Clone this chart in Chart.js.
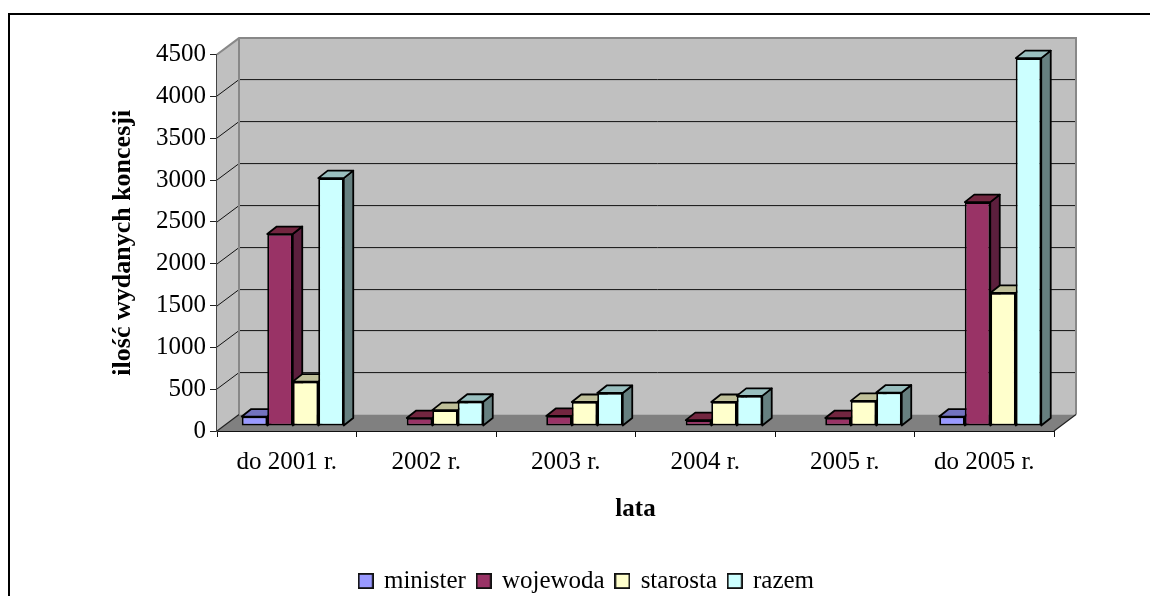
<!DOCTYPE html>
<html><head><meta charset="utf-8">
<style>html,body{margin:0;padding:0;background:#fff}canvas{display:block}</style>
<script src="https://cdn.jsdelivr.net/npm/chart.js@4"></script>
</head><body><canvas id="c" width="1150" height="596"></canvas>
<script>
const categories = ['do 2001 r.','2002 r.','2003 r.','2004 r.','2005 r.','do 2005 r.'];
const minister = [113,null,null,null,null,113];
const wojewoda = [2294,95,120,70,95,2676];
const starosta = [530,190,287,287,300,1590];
const razem = [2963,290,395,360,400,4397];
const seriesNames = ['minister','wojewoda','starosta','razem'];
const yTitle = 'ilość wydanych koncesji';
const xTitle = 'lata';
const fills = ['#9999ff','#993366','#ffffcc','#ccffff'];
const tops  = ['#7373bf','#732640','#bfbf99','#99bfbf'];
const sides = ['#5c5c99','#5c1f3d','#99997a','#668080'];
const serif = '"Liberation Serif"';
const WALL_DX = 22, WALL_DY = 16.4, BAR_DX = 6, BAR_DY = 5, DEPTH_X = 9.5, DEPTH_Y = 7.5;
const seriesData=[minister,wojewoda,starosta,razem];

function poly(ctx, pts, fill, stroke, lw){
  ctx.beginPath();
  pts.forEach((p,i)=> i?ctx.lineTo(p[0],p[1]):ctx.moveTo(p[0],p[1]));
  ctx.closePath();
  if(fill){ctx.fillStyle=fill;ctx.fill();}
  if(stroke){ctx.strokeStyle=stroke;ctx.lineWidth=lw;ctx.lineJoin='round';ctx.stroke();}
}
const icons = fills.map(f=>{
  const c=document.createElement('canvas');c.width=16;c.height=16;
  const x=c.getContext('2d');
  x.fillStyle=f;x.fillRect(1,1,14,14);
  x.strokeStyle='#111';x.lineWidth=1.8;x.strokeRect(.9,.9,14.2,14.2);
  return c;
});
const scene = {
  id:'scene',
  afterLayout(chart){
    const l = chart.legend; // legend placed as in the source
    const shift = 587 - (l.left + l.right)/2;
    l.left += shift; l.right += shift;
    l.top += 7.5; l.bottom += 7.5;
  },
  beforeDatasetsDraw(chart){
    const {ctx, chartArea:a, scales:{y}} = chart;
    ctx.save();
    const L=a.left,R=a.right,T=a.top,B=a.bottom;
    poly(ctx,[[L,T],[L+WALL_DX,T-WALL_DY],[L+WALL_DX,B-WALL_DY],[L,B]],'#c0c0c0');
    poly(ctx,[[L+WALL_DX,T-WALL_DY],[R+WALL_DX,T-WALL_DY],[R+WALL_DX,B-WALL_DY],[L+WALL_DX,B-WALL_DY]],'#c0c0c0');
    ctx.strokeStyle='#111'; ctx.lineWidth=1;
    y.ticks.forEach(t=>{
      if(t.value===0||t.value===4500) return;
      const py=Math.round(y.getPixelForValue(t.value));
      ctx.beginPath();
      ctx.moveTo(L,py);ctx.lineTo(L+WALL_DX,py-WALL_DY);ctx.lineTo(R+WALL_DX,py-WALL_DY);ctx.stroke();
    });
    poly(ctx,[[L,B],[R,B],[R+WALL_DX,B-WALL_DY],[L+WALL_DX,B-WALL_DY]],'#808080');
    ctx.strokeStyle='#888'; ctx.lineWidth=2; ctx.lineJoin='miter';
    ctx.beginPath();
    ctx.moveTo(L,T);ctx.lineTo(L+WALL_DX,T-WALL_DY);ctx.lineTo(R+WALL_DX,T-WALL_DY);ctx.lineTo(R+WALL_DX,B-WALL_DY);
    ctx.moveTo(L+WALL_DX,T-WALL_DY);ctx.lineTo(L+WALL_DX,B-WALL_DY);
    ctx.stroke();
    ctx.strokeStyle='#222'; ctx.lineWidth=1.2;
    ctx.beginPath();
    ctx.moveTo(L,B);ctx.lineTo(L+WALL_DX,B-WALL_DY);
    ctx.moveTo(R,B);ctx.lineTo(R+WALL_DX,B-WALL_DY);
    ctx.stroke();
    // side and top faces of the bars, left to right; the fronts are drawn after by the library
    ctx.translate(BAR_DX,-BAR_DY);
    seriesData.forEach((vals,i)=>{
      chart.getDatasetMeta(i).data.forEach((el,k)=>{
        if(vals[k]==null) return;
        const p=el.getProps(['x','y','base','width'],true);
        const l=p.x-p.width/2,r=p.x+p.width/2;
        poly(ctx,[[r,p.y],[r+DEPTH_X,p.y-DEPTH_Y],[r+DEPTH_X,p.base-DEPTH_Y],[r,p.base]],sides[i],'#000',1.8);
        poly(ctx,[[l,p.y],[l+DEPTH_X,p.y-DEPTH_Y],[r+DEPTH_X,p.y-DEPTH_Y],[r,p.y]],tops[i],'#000',1.8);
      });
    });
    ctx.restore();
  },
  beforeDatasetDraw(chart){
    chart.ctx.save();
    chart.ctx.translate(BAR_DX,-BAR_DY);
  },
  afterDatasetDraw(chart){ chart.ctx.restore(); }
};
const frame = {
  id:'frame',
  beforeDraw(chart){
    const ctx=chart.ctx;
    ctx.save();
    ctx.fillStyle='#fff';ctx.fillRect(0,0,1150,596);
    ctx.strokeStyle='#000';ctx.lineWidth=2;
    ctx.beginPath();ctx.moveTo(9,596);ctx.lineTo(9,14);ctx.lineTo(1150,14);ctx.stroke();
    ctx.restore();
  }
};
new Chart(document.getElementById('c'),{
  type:'bar',
  data:{labels:categories,datasets:seriesNames.map((n,i)=>({
    label:n,data:seriesData[i],backgroundColor:fills[i],borderColor:'#000',borderWidth:1.8,
    clip:false,categoryPercentage:0.731,barPercentage:1,borderSkipped:false
  }))},
  options:{
    responsive:false,animation:false,
    layout:{padding:{left:100,right:96,top:54.5,bottom:0}},
    plugins:{
      tooltip:{enabled:false},
      legend:{position:'bottom',labels:{
        usePointStyle:true,pointStyleWidth:11.5,boxHeight:15,padding:12,color:'#000',font:{family:serif,size:25},
        generateLabels(chart){
          return Chart.defaults.plugins.legend.labels.generateLabels(chart).map((it,i)=>({...it,pointStyle:icons[i]}));
        }
      }}
    },
    scales:{
      x:{
        offset:true,
        afterFit(s){s.height=118;},
        border:{color:'#111',width:2},
        grid:{display:true,drawOnChartArea:false,drawTicks:true,tickLength:6,color:'#111',lineWidth:1,offset:true},
        ticks:{color:'#000',maxRotation:0,padding:10,font:{family:serif,size:25}},
        title:{display:true,text:xTitle,color:'#000',font:{family:serif,size:25,weight:'bold'},padding:{top:0,bottom:24}}
      },
      y:{
        min:0,max:4500,
        afterFit(s){s.width=117;},
        border:{color:'#444',width:2},
        grid:{display:true,drawOnChartArea:false,drawTicks:true,tickLength:7,color:'#222',lineWidth:1},
        ticks:{stepSize:500,color:'#000',padding:4,font:{family:serif,size:25},callback:v=>String(v)},
        title:{display:true,text:yTitle,color:'#000',font:{family:serif,size:26,weight:'bold'},padding:{top:8,bottom:0}}
      }
    }
  },
  plugins:[frame,scene]
});
</script></body></html>
